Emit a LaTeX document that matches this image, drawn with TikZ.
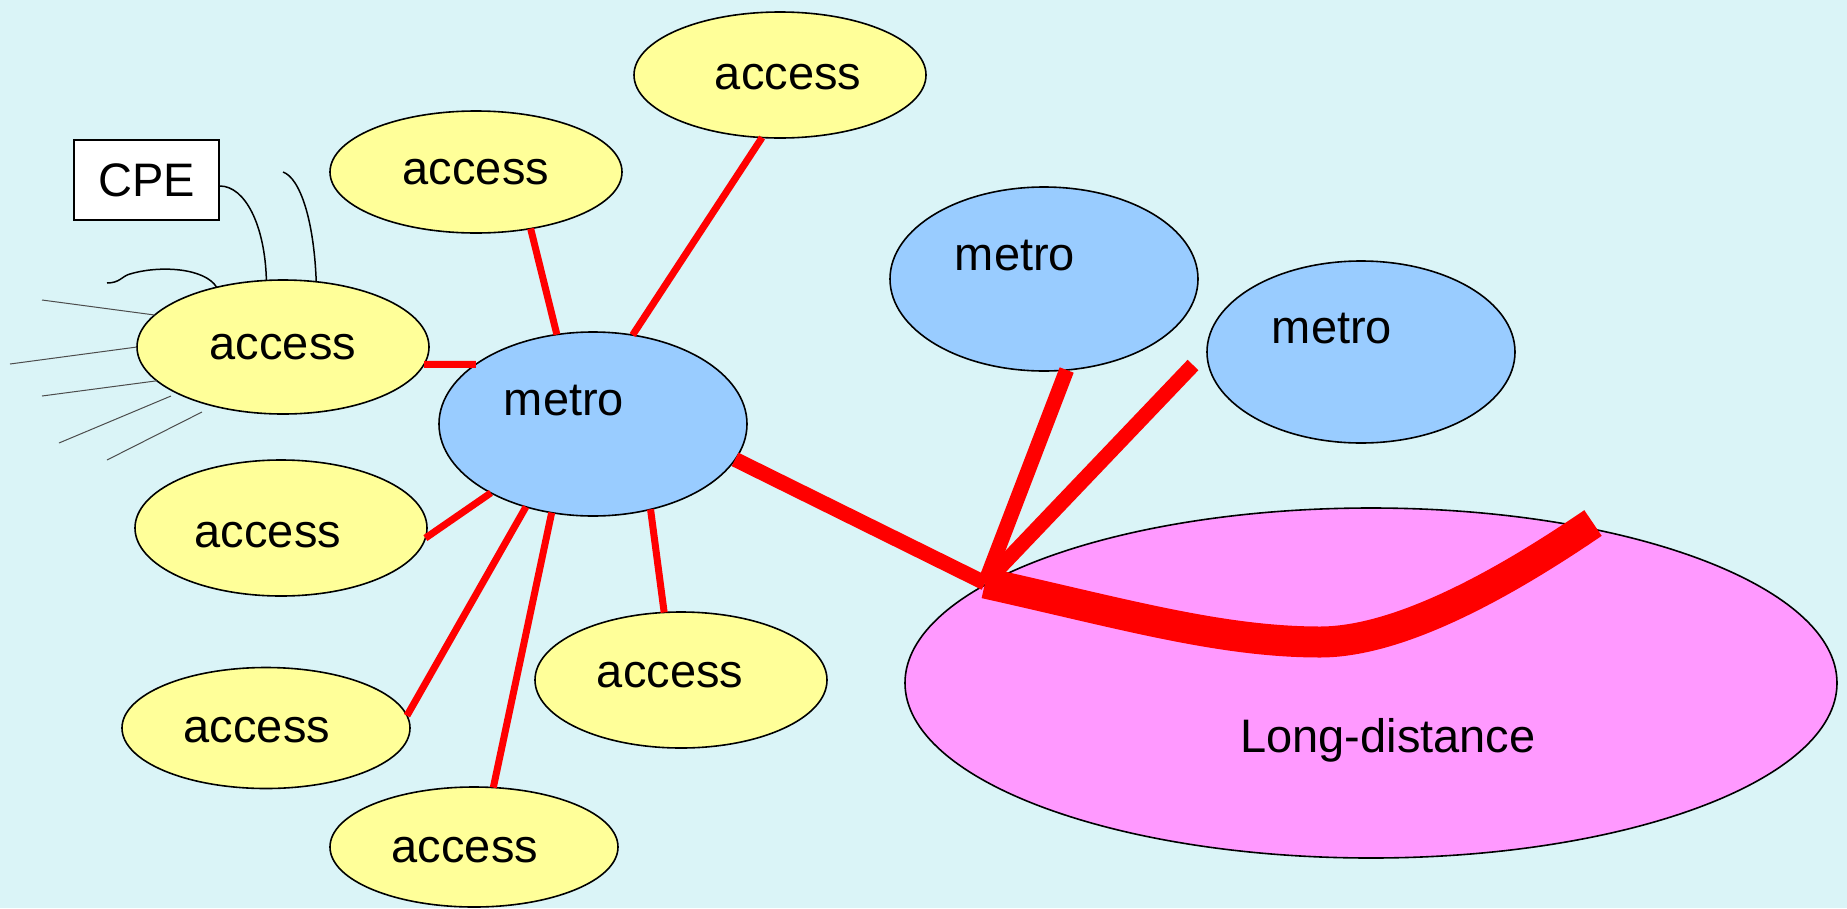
\documentclass[tikz,border=0pt]{standalone}
\usepackage{fontspec}
\setmainfont{Liberation Sans}
\usetikzlibrary{shapes.geometric}
\definecolor{bgcyan}{RGB}{218,244,247}
\definecolor{accyellow}{RGB}{255,255,153}
\definecolor{metroblue}{RGB}{153,204,255}
\definecolor{ldpink}{RGB}{255,153,255}
\tikzset{
  bigtext/.style={font=\fontsize{47}{56}\selectfont},
  net/.style={ellipse, draw, line width=1.6pt, inner sep=0pt, outer sep=0pt},
  access/.style={net, fill=accyellow, minimum width=292pt, minimum height=128pt,
    label={[bigtext, shift={#1}]center:access}},
  access/.default={(0,0)},
  metro/.style={net, fill=metroblue, minimum width=308pt, minimum height=184pt,
    label={[bigtext, xshift=-29pt, yshift=23pt]center:metro}},
  link/.style={red, line width=7pt},
  trunk/.style={red, line width=15pt},
  wire/.style={line width=1.5pt},
  ray/.style={black!70, line width=1pt}
}
\begin{document}
\begin{tikzpicture}[x=1pt, y=-1pt]
  \fill[bgcyan] (0,0) rectangle (1847,908);
  \useasboundingbox (0,0) rectangle (1847,908);
  % long-distance core
  \node[net, fill=ldpink, minimum width=932pt, minimum height=350pt,
    label={[bigtext, xshift=17pt, yshift=-57pt]center:Long-distance}]
    (ld) at (1371,683) {};
  % metro rings
  \node[metro] (m1) at (593,424) {};
  \node[metro] (m2) at (1044,279) {};
  \node[metro, minimum height=182pt] (m3) at (1361,352) {};
  % access rings
  \node[access={(8,2)}, minimum height=126pt] (a1) at (780,75) {};
  \node[access, minimum height=122pt] (a2) at (476,172) {};
  \node[access, minimum height=134pt] (a3) at (283,347) {};
  \node[access={(-13,7)}, minimum height=136pt] (a4) at (281,528) {};
  \node[access={(-9,2)}, minimum width=288pt, minimum height=121pt] (a5) at (266,728) {};
  \node[access={(-11,-5)}, minimum height=136pt] (a6) at (681,680) {};
  \node[access={(-9,3)}, minimum width=288pt, minimum height=120pt] (a7) at (474,847) {};
  % customer premises
  \node[draw, fill=white, line width=1.6pt, minimum width=145pt, minimum height=80pt,
    inner sep=0pt, bigtext] (cpe) at (146.5,180) {CPE};
  % access to metro
  \draw[link] (a1.254) -- (m1.66);
  \draw[link] (a2.-46) -- (m1.112);
  \draw[link] (a3.-7) -- (m1.153);
  \draw[link] (a4.-4) -- (m1.214);
  \draw[link] (a5.5) -- (m1.231);
  \draw[link] (a7.72) -- (m1.245);
  \draw[link] (a6.104) -- (m1.-56);
  % metro to long-distance
  \coordinate (junction) at (985,583);
  \coordinate (m3end) at (1193,365);
  \coordinate (ldend) at (1593,523);
  \draw[trunk] (m1.-14) -- (junction);
  \draw[trunk] (m2.-76) -- (junction);
  \draw[trunk] (m3end) -- (junction);
  \draw[red, line width=31pt] (junction) .. controls (1120,613) and (1220,642) .. (1320,642)
    .. controls (1400,642) and (1505,583) .. (ldend);
  % wires at the customer side
  \draw[wire] ([yshift=-6pt]cpe.east) .. controls (245,186) and (265,225) .. (a3.104);
  \draw[wire] (283,172) .. controls (300,178) and (314,220) .. (a3.63);
  \draw[wire] (107,283) .. controls (120,283) and (122,276) .. (130,274)
    .. controls (160,265) and (205,268) .. (a3.138);
  \draw[ray] (42,300) -- (a3.166);
  \draw[ray] (10,364) -- (a3.180);
  \draw[ray] (42,396) -- (a3.195);
  \draw[ray] (59,443) -- (171,396);
  \draw[ray] (107,460) -- (202,412);
\end{tikzpicture}
\end{document}
